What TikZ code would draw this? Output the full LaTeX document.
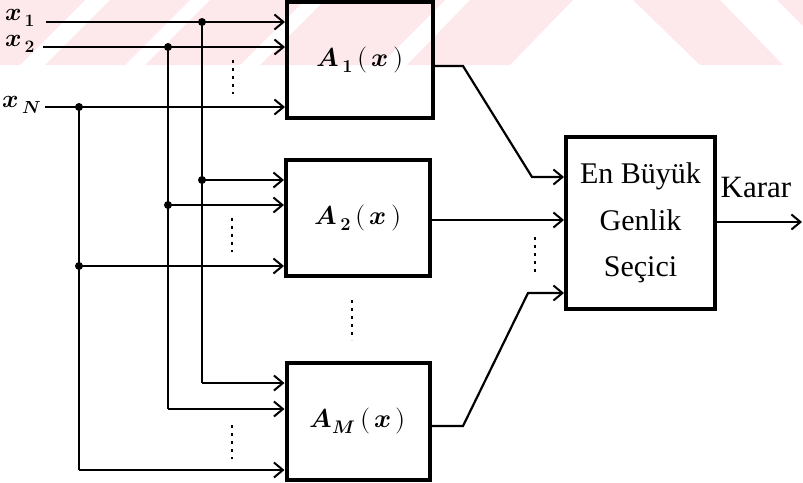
\documentclass[tikz,border=0pt]{standalone}
\usepackage{fontspec}
\usepackage{unicode-math}
\setmathfont{Latin Modern Math}
\newfontfamily\serifT{Liberation Serif}
\usetikzlibrary{arrows.meta,calc}
\definecolor{wm}{RGB}{253,232,236}
\begin{document}
\begin{tikzpicture}[x=1pt,y=-1pt,
  ln/.style={line width=2.2pt},
  box/.style={draw,line width=4pt,inner sep=0pt},
  arr/.style={line width=2.2pt,-{Straight Barb[length=9pt,width=15pt,line width=2pt]}},
  dotmark/.style={line width=2.4pt,dash pattern=on 3pt off 5pt},
  junc/.style={circle,fill,inner sep=0pt,minimum size=8pt},
  mathlab/.style={font=\fontsize{25}{30}\selectfont},
  boxlab/.style={font=\fontsize{26}{30}\selectfont},
  serlab/.style={font=\serifT\fontsize{30}{46.5}\selectfont,align=center}
]
\useasboundingbox (0,0) rectangle (803,482);
% faint watermark
\fill[wm] (-65,65) -- (20,65) -- (85,0) -- (0,0) -- cycle;
\fill[wm] (45,65) -- (125,65) -- (190,0) -- (110,0) -- cycle;
\fill[wm] (145,65) -- (240,65) -- (305,0) -- (210,0) -- cycle;
\fill[wm] (260,65) -- (380,65) -- (445,0) -- (325,0) -- cycle;
\fill[wm] (407,65) -- (510,65) -- (573,0) -- (470,0) -- cycle;
\fill[wm] (633,0) -- (720,0) -- (783,65) -- (700,65) -- cycle;
\fill[wm] (777,0) -- (803,0) -- (803,26) -- cycle;

% blocks
\node[box,minimum width=146pt,minimum height=116pt,boxlab] (A1) at (360,60) {$\mathbfit{A}_{\,\mathbf{1}}\,\symbf{(}\,\mathbfit{x}\,\symbf{)}$};
\node[box,minimum width=144pt,minimum height=116pt,boxlab] (A2) at (358,218) {$\mathbfit{A}_{\,\mathbf{2}}\,\symbf{(}\,\mathbfit{x}\,\symbf{)}$};
\node[box,minimum width=143pt,minimum height=117pt,boxlab] (AM) at (358,421) {$\mathbfit{A}_{\mathbfit{M}}\,\symbf{(}\,\mathbfit{x}\,\symbf{)}$};
\node[box,minimum width=149pt,minimum height=172pt,serlab] (D) at (640.5,223) {En Büyük\\Genlik\\Seçici};

% input labels
\node[mathlab] (lx1) at (20,18) {$\mathbfit{x}_{\,\mathbf{1}}$};
\node[mathlab] (lx2) at (20,44) {$\mathbfit{x}_{\,\mathbf{2}}$};
\node[mathlab] (lxN) at (22,105) {$\mathbfit{x}_{\,\mathbfit{N}}$};
\node[font=\serifT\fontsize{31}{36}\selectfont] (karar) at (756,187) {Karar};

% coordinates
\coordinate (s1) at (46,22);
\coordinate (s2) at (43,47);
\coordinate (sN) at (45,107);
\coordinate (j1) at (202,22);
\coordinate (j2) at (168,47);
\coordinate (jN) at (79,107);
\coordinate (b1) at (202,180);
\coordinate (b2) at (168,205);
\coordinate (bN) at (79,266);
\coordinate (c1) at (202,383);
\coordinate (c2) at (168,409);
\coordinate (cN) at (79,470);

% inputs to A1
\draw[arr] (s1) -- (A1.west |- s1);
\draw[arr] (s2) -- (A1.west |- s2);
\draw[arr] (sN) -- (A1.west |- sN);
% verticals
\draw[ln] (j1) -- (c1);
\draw[ln] (j2) -- (c2);
\draw[ln] (jN) -- (cN);
% inputs to A2
\draw[arr] (b1) -- (A2.west |- b1);
\draw[arr] (b2) -- (A2.west |- b2);
\draw[arr] (bN) -- (A2.west |- bN);
% inputs to AM
\draw[arr] (c1) -- (AM.west |- c1);
\draw[arr] (c2) -- (AM.west |- c2);
\draw[arr] (cN) -- (AM.west |- cN);
% junction dots
\foreach \p in {j1,j2,jN,b1,b2,bN} \node[junc] at (\p) {};

% outputs
\coordinate (o1a) at (463,66);
\coordinate (o1b) at (532,177);
\coordinate (oMa) at (463,426);
\coordinate (oMb) at (528,293);
\draw[arr] (A1.east |- o1a) -- (o1a) -- (o1b) -- (D.west |- o1b);
\draw[arr] (A2.east |- 0,220) -- (D.west |- 0,220);
\draw[arr] (AM.east |- oMa) -- (oMa) -- (oMb) -- (D.west |- oMb);
\coordinate (out) at (802,222);
\draw[arr] (D.east |- out) -- (out);

% vertical dot markers
\draw[dotmark] (233,60) -- (233,94);
\draw[dotmark] (232,218) -- (232,252);
\draw[dotmark] (232,425) -- (232,459);
\draw[dotmark] (352,300) -- (352,340);
\draw[dotmark] (535,237) -- (535,273);
\end{tikzpicture}
\end{document}
